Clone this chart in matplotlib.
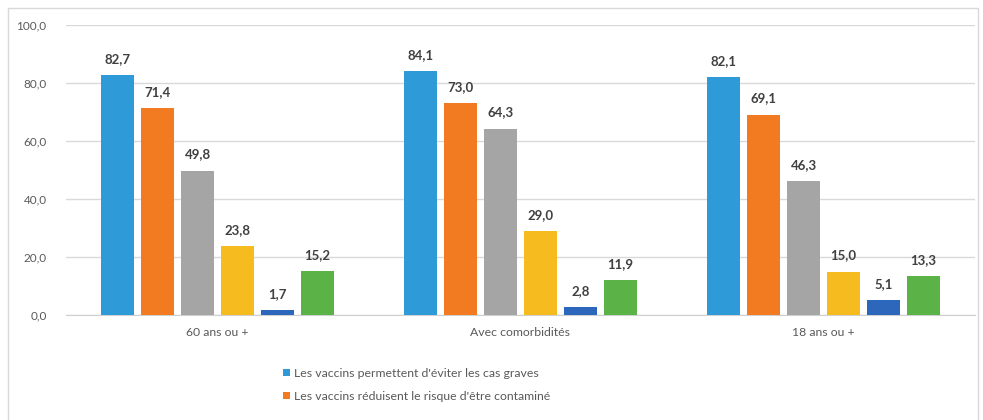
import matplotlib
matplotlib.use("Agg")
import matplotlib.pyplot as plt
from matplotlib.patches import Rectangle
import numpy as np

plt.rcParams['font.family'] = ['Lato', 'DejaVu Sans']

categories = ["60 ans ou +", "Avec comorbidités", "18 ans ou +"]
series_names = [
    "Les vaccins permettent d'éviter les cas graves",
    "Les vaccins réduisent le risque d'être contaminé",
    "Série 3",
    "Série 4",
    "Série 5",
    "Série 6",
]
s1 = [82.7, 84.1, 82.1]
s2 = [71.4, 73.0, 69.1]
s3 = [49.8, 64.3, 46.3]
s4 = [23.8, 29.0, 15.0]
s5 = [1.7, 2.8, 5.1]
s6 = [15.2, 11.9, 13.3]
series = [s1, s2, s3, s4, s5, s6]
colors = ["#2E9AD8", "#F27B22", "#A5A5A5", "#F6BB1E", "#2C67BC", "#5BB247"]
yticks = [0, 20, 40, 60, 80, 100]

W, H = 983, 420
fig = plt.figure(figsize=(W/100, H/100), dpi=100)
fig.patches.append(Rectangle((8/W, -0.1), (978-8)/W, (H-8)/H + 0.1, transform=fig.transFigure,
                             fill=False, edgecolor="#D9D9D9", lw=1))
ax = fig.add_axes([66/W, 1-315/H, (975-66)/W, (315-25)/H])

x = np.arange(len(categories))
step = 0.132
bw = 0.106
for i, (vals, c) in enumerate(zip(series, colors)):
    pos = x + (i - 2.5) * step
    ax.bar(pos, vals, width=bw, color=c, label=series_names[i], zorder=3)
    for p, v in zip(pos, vals):
        ax.text(p, v + 3.5, f"{v:.1f}".replace(".", ","), ha="center", va="bottom",
                fontsize=9.5, fontweight="bold", color="#404040")

ax.set_xlim(-0.5, 2.5)
ax.set_ylim(0, 100)
ax.set_yticks(yticks)
ax.set_yticklabels([f"{t:.1f}".replace(".", ",") for t in yticks], fontsize=8.5, color="#595959")
ax.set_xticks(x)
ax.set_xticklabels(categories, fontsize=8.8, color="#595959")
ax.tick_params(axis="both", length=0)
ax.tick_params(axis="y", pad=14)
ax.tick_params(axis="x", pad=9)
ax.grid(axis="y", color="#D9D9D9", lw=1, zorder=0)
for s in ["top", "right", "left"]:
    ax.spines[s].set_visible(False)
ax.spines["bottom"].set_color("#D0D0D0")

handles, labels = ax.get_legend_handles_labels()
leg = fig.legend(handles[:2], labels[:2], loc="upper left", bbox_to_anchor=(277/W, 1-362/H),
                 frameon=False, fontsize=8.8, handlelength=0.55, handleheight=0.55,
                 handletextpad=0.3, labelspacing=0.95, labelcolor="#595959", borderpad=0)

fig.savefig("out.png", dpi=100)
